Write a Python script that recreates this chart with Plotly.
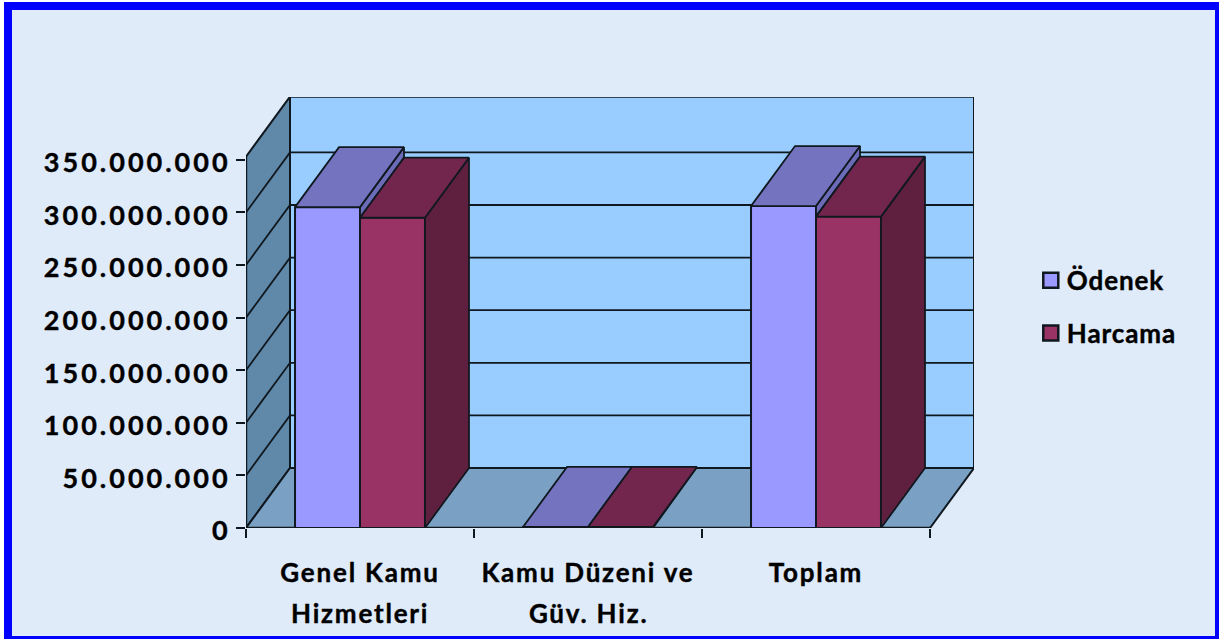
import plotly.graph_objects as go

# ---- data ----
TICK_LINE_1 = ["Genel Kamu", "Kamu Düzeni ve", "Toplam"]
TICK_LINE_2 = ["Hizmetleri", "Güv. Hiz.", ""]
CATEGORY_POS = [0.5, 1.5, 2.5]
ODENEK = [305000000, 1000000, 306000000]
HARCAMA = [295000000, 1000000, 296000000]
SERIES_NAMES = ["Ödenek", "Harcama"]
Y_TICKS = [0, 50000000, 100000000, 150000000, 200000000, 250000000, 300000000, 350000000]
Y_TICK_TEXT = ["0", "50.000.000", "100.000.000", "150.000.000", "200.000.000",
               "250.000.000", "300.000.000", "350.000.000"]
X_BOUNDS = [0, 1, 2, 3]

# ---- style and projection ----
W, H = 1219, 639
PX_L, PX_R, PX_T, PX_B = 246, 974, 97, 528
PX_PER_CAT = 228.0
PX_PER_VAL = 52.6 / 50000000
DEPTH_X = 44 / PX_PER_CAT
DEPTH_Y = 60 / PX_PER_VAL
WALL_TOP = 353000000
BAR_W = 0.285
FONT = "Lato"
EDGE = "#10181f"
COL_O = dict(front="#9999FF", top="#7373BF", side="#6B6BB8")
COL_H = dict(front="#993366", top="#73264D", side="#5F203F")


def pr(x, v, d):
    return x + d * DEPTH_X, v + d * DEPTH_Y


def poly(points, fill, width=1.8):
    xs, ys = zip(*[pr(*p) for p in points + points[:1]])
    return go.Scatter(x=xs, y=ys, mode="lines", fill="toself", fillcolor=fill,
                      line=dict(color=EDGE, width=width), cliponaxis=False,
                      hoverinfo="skip", showlegend=False)


def path_shape(points, fill=None, width=1.8, close=True):
    coords = [pr(*p) for p in points]
    d = "M" + " L".join(f"{x},{y}" for x, y in coords) + (" Z" if close else "")
    return dict(type="path", xref="x", yref="y", layer="below", path=d,
                fillcolor=fill if fill else "rgba(0,0,0,0)",
                line=dict(color=EDGE, width=width))


fig = go.Figure()

# bar fronts (legend comes from these)
for name, vals, col, off in [(SERIES_NAMES[0], ODENEK, COL_O, -BAR_W), (SERIES_NAMES[1], HARCAMA, COL_H, 0)]:
    fig.add_trace(go.Bar(x=CATEGORY_POS, y=vals, name=name, width=BAR_W, offset=off,
                         legendgroup=name,
                         marker=dict(color=col["front"], line=dict(color=EDGE, width=2)),
                         cliponaxis=False))

# page frame, walls, floor and grid
x_max = X_BOUNDS[-1]
span_x, span_y = PX_R - PX_L, PX_B - PX_T
shapes = [dict(type="rect", xref="paper", yref="paper", layer="below",
               x0=(8 - PX_L) / span_x, x1=(1219 - PX_L) / span_x,
               y0=(PX_B - 640) / span_y, y1=(PX_B - 6) / span_y,
               fillcolor="#DFEBF9", line=dict(color="#0000FF", width=8))]
shapes.append(path_shape([(0, 0, 1), (x_max, 0, 1), (x_max, WALL_TOP, 1), (0, WALL_TOP, 1)], "#99CCFF", 2))
shapes.append(path_shape([(0, 0, 0), (0, 0, 1), (0, WALL_TOP, 1), (0, WALL_TOP, 0)], "#6088A8", 2))
shapes.append(path_shape([(0, 0, 0), (x_max, 0, 0), (x_max, 0, 1), (0, 0, 1)], "#7AA0C4", 2))
for t in Y_TICKS[1:-1]:
    shapes.append(path_shape([(0, t, 0), (0, t, 1), (x_max, t, 1)], None, 1.8, close=False))
shapes.append(path_shape([(0, 0, 0), (0, WALL_TOP, 0)], None, 2.4, close=False))
shapes.append(path_shape([(0, 0, 0), (x_max, 0, 0)], None, 2.6, close=False))

# bar tops and sides, back to front
for c, vo, vh in zip(CATEGORY_POS, ODENEK, HARCAMA):
    x0, x1, x2 = c - BAR_W, c, c + BAR_W
    fig.add_trace(poly([(x1, min(vo, vh), 0), (x1, min(vo, vh), 1), (x1, vo, 1), (x1, vo, 0)], COL_O["side"]))
    fig.add_trace(poly([(x0, vo, 0), (x1, vo, 0), (x1, vo, 1), (x0, vo, 1)], COL_O["top"]))
    fig.add_trace(poly([(x2, 0, 0), (x2, 0, 1), (x2, vh, 1), (x2, vh, 0)], COL_H["side"]))
    fig.add_trace(poly([(x1, vh, 0), (x2, vh, 0), (x2, vh, 1), (x1, vh, 1)], COL_H["top"]))

annotations = [
    dict(x=c, xref="x", y=0, yref="paper", yshift=-85, yanchor="middle", text=t, showarrow=False,
         font=dict(family=FONT, size=26, color="#000000", weight=700))
    for c, t in zip(CATEGORY_POS, TICK_LINE_2) if t
]

fig.update_layout(
    width=W, height=H, autosize=False,
    margin=dict(l=PX_L, r=W - PX_R, t=PX_T, b=H - PX_B, pad=0),
    paper_bgcolor="#FFFFFF", plot_bgcolor="rgba(0,0,0,0)",
    barmode="overlay", annotations=annotations, shapes=shapes,
    font=dict(family=FONT, color="#000000"),
    xaxis=dict(range=[0, (PX_R - PX_L) / PX_PER_CAT], tickvals=CATEGORY_POS, ticktext=TICK_LINE_1,
               ticks="", showgrid=False, zeroline=False, showline=False,
               tickfont=dict(family=FONT, size=26, weight=700, color="#000000"),
               ticklabelstandoff=27,
               minor=dict(tickvals=X_BOUNDS, ticks="outside", ticklen=9, tickwidth=2, tickcolor=EDGE, showgrid=False)),
    yaxis=dict(range=[0, (PX_B - PX_T) / PX_PER_VAL], tickvals=Y_TICKS, ticktext=Y_TICK_TEXT,
               ticks="outside", ticklen=9, tickwidth=2, tickcolor=EDGE,
               showgrid=False, zeroline=False, showline=False,
               tickfont=dict(family=FONT, size=27, weight=700, color="#000000"),
               ticklabelstandoff=0),
    legend=dict(x=1.078, y=0.513, xanchor="left", yanchor="middle", bgcolor="rgba(0,0,0,0)",
                tracegroupgap=16, font=dict(family=FONT, size=26, weight=700, color="#000000")),
)

CSS = """
var s=document.createElement('style');
s.textContent=`
 body{margin:0}
 g.ytick text{letter-spacing:3px; stroke:#000; stroke-width:0.4px}
 g.ytick{transform:translateY(3px)}
 g.xtick text, g.annotation text{letter-spacing:1.8px; stroke:#000; stroke-width:0.4px}
 text.legendtext{letter-spacing:0.9px; transform:translateX(-4px); stroke:#000; stroke-width:0.4px}
 g.legendpoints path{transform:translate(20px,0px) scale(1.25)}
`;
document.head.appendChild(s);
"""
fig.write_html("out.html", post_script=CSS, config=dict(displayModeBar=False))
